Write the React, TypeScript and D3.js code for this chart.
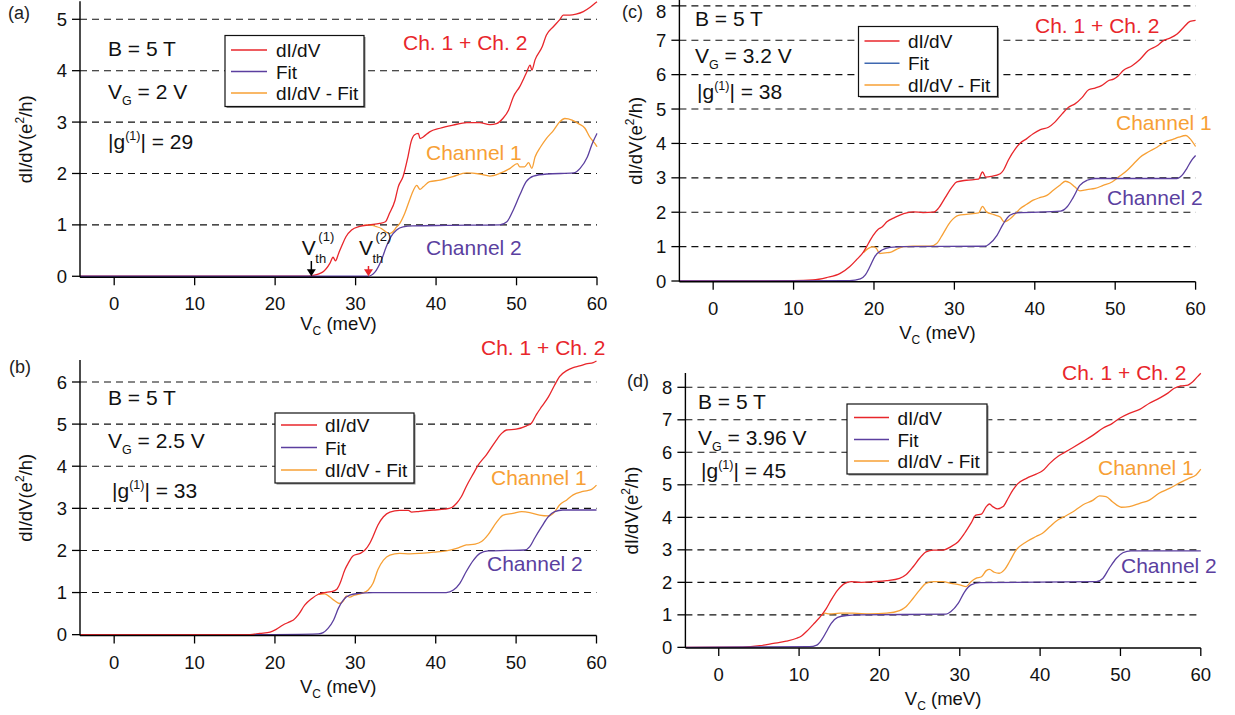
import React from "react";
import * as d3 from "d3";

// ---------------- DATA ----------------
const X_TICKS = [0, 10, 20, 30, 40, 50, 60];
const V_TH_A = [24.5, 31.6];

// Panel (a)  V_G = 2 V
const aDidvX = [-4.25, 24.0, 24.5, 25.9, 26.8, 27.2, 27.5, 27.9, 28.3, 28.8, 29.5, 30.5, 31.7, 33.0, 33.7, 34.2, 34.9, 35.3, 35.9, 36.5, 36.9, 37.3, 37.8, 38.0, 38.4, 39.2, 40.5, 42.1, 43.8, 45.4, 46.7, 47.5, 48.3, 49.0, 49.6, 50.4, 51.2, 51.7, 51.9, 52.3, 53.2, 53.7, 54.6, 55.4, 55.8, 56.6, 57.4, 58.3, 59.1, 59.75, 60];
const aDidvY = [0, 0, 0.01, 0.08, 0.25, 0.37, 0.3, 0.45, 0.6, 0.77, 0.9, 0.97, 1.0, 1.03, 1.06, 1.22, 1.48, 1.74, 1.94, 2.32, 2.62, 2.75, 2.78, 2.68, 2.71, 2.81, 2.88, 2.94, 2.99, 2.99, 2.95, 2.97, 3.07, 3.23, 3.49, 3.69, 3.95, 4.11, 4.01, 4.21, 4.47, 4.69, 4.86, 5.0, 5.08, 5.08, 5.1, 5.15, 5.23, 5.31, 5.34];
const aFitX = [-4.25, 31.5, 32.4, 33.2, 33.8, 34.4, 35.1, 35.9, 37.1, 41.3, 47.9, 48.8, 49.6, 50.4, 51.2, 52.1, 53.8, 57.1, 57.9, 58.8, 59.4, 60];
const aFitY = [0, 0, 0.08, 0.31, 0.57, 0.77, 0.9, 0.96, 0.98, 0.99, 1.0, 1.06, 1.29, 1.58, 1.84, 1.95, 1.99, 2.01, 2.1, 2.32, 2.58, 2.78];
const aDiffX = [31.0, 31.7, 32.5, 33.2, 33.8, 34.2, 34.6, 35.1, 35.5, 36.1, 36.7, 37.2, 37.6, 38.0, 38.4, 39.2, 40.5, 42.1, 43.8, 45.4, 46.7, 47.9, 49.2, 50.1, 50.4, 51.0, 51.5, 51.9, 52.3, 53.0, 53.7, 54.6, 55.4, 56.0, 56.9, 57.7, 58.5, 59.1, 59.75, 60];
const aDiffY = [0.99, 1.0, 0.97, 0.93, 0.86, 0.83, 0.86, 0.96, 1.03, 1.22, 1.48, 1.68, 1.77, 1.69, 1.74, 1.84, 1.87, 1.94, 2.01, 1.99, 1.95, 2.0, 2.1, 2.19, 2.13, 2.13, 2.21, 2.1, 2.32, 2.52, 2.68, 2.84, 3.01, 3.07, 3.04, 2.97, 2.88, 2.71, 2.58, 2.52];

// Panel (b)  V_G = 2.5 V
const bDidvX = [-4.25, 16.9, 18.1, 19.4, 20.2, 21.0, 21.9, 22.3, 22.9, 23.7, 24.6, 25.4, 26.2, 27.0, 27.7, 28.1, 28.7, 29.1, 29.7, 30.6, 31.2, 31.8, 32.2, 32.8, 33.5, 34.3, 35.5, 36.6, 37.0, 38.0, 39.7, 41.1, 42.0, 42.6, 43.2, 43.8, 44.7, 45.3, 46.3, 47.4, 48.2, 48.8, 50.0, 51.3, 51.9, 52.5, 53.2, 54.0, 54.8, 55.4, 56.3, 57.1, 57.9, 58.7, 59.6, 60];
const bDidvY = [0, 0, 0.03, 0.06, 0.13, 0.23, 0.31, 0.35, 0.47, 0.7, 0.86, 0.96, 1.0, 1.02, 1.08, 1.22, 1.54, 1.69, 1.87, 1.93, 2.01, 2.17, 2.33, 2.6, 2.8, 2.91, 2.95, 2.95, 2.91, 2.93, 2.96, 2.98, 3.02, 3.12, 3.28, 3.52, 3.83, 4.03, 4.27, 4.58, 4.78, 4.86, 4.88, 4.96, 5.02, 5.22, 5.42, 5.64, 5.93, 6.13, 6.27, 6.34, 6.38, 6.43, 6.46, 6.5];
const bFitX = [17.5, 25.4, 26.0, 26.6, 27.3, 27.9, 28.5, 29.3, 30.4, 32.2, 41.3, 42.2, 43.0, 43.8, 44.7, 45.5, 46.5, 48.8, 51.1, 51.7, 52.3, 53.2, 54.0, 54.8, 55.8, 60];
const bFitY = [0, 0.02, 0.05, 0.15, 0.35, 0.63, 0.82, 0.94, 0.98, 1.0, 1.0, 1.06, 1.22, 1.5, 1.77, 1.93, 1.99, 2.0, 2.01, 2.09, 2.29, 2.57, 2.8, 2.92, 2.96, 2.96];
const bDiffX = [25.4, 26.2, 26.8, 27.4, 28.0, 28.5, 28.9, 29.3, 29.9, 30.8, 31.6, 32.2, 32.8, 33.5, 34.3, 35.5, 36.8, 38.0, 39.7, 41.3, 42.6, 43.8, 44.9, 45.7, 46.5, 47.6, 48.4, 49.6, 50.7, 51.7, 52.9, 54.0, 54.8, 55.4, 56.3, 57.1, 58.3, 59.4, 60];
const bDiffY = [0.96, 0.97, 0.9, 0.81, 0.74, 0.8, 0.92, 0.89, 0.94, 0.98, 1.06, 1.22, 1.54, 1.77, 1.89, 1.93, 1.92, 1.93, 1.96, 1.99, 2.05, 2.13, 2.15, 2.21, 2.37, 2.68, 2.84, 2.88, 2.92, 2.9, 2.84, 2.82, 2.92, 3.08, 3.2, 3.32, 3.4, 3.45, 3.55];

// Panel (c)  V_G = 3.2 V
const cDidvX = [-4.2, 10.0, 12.4, 14.1, 15.8, 17.0, 17.8, 18.7, 19.3, 19.9, 20.5, 21.0, 21.6, 22.6, 23.7, 24.9, 26.1, 27.4, 28.0, 28.8, 29.7, 30.3, 31.5, 33.0, 33.5, 33.9, 34.6, 35.7, 36.1, 36.7, 37.6, 38.2, 39.0, 39.8, 40.7, 41.7, 42.5, 43.4, 44.2, 45.0, 45.9, 46.7, 47.5, 48.3, 49.2, 49.8, 50.4, 51.0, 52.1, 53.1, 54.1, 55.2, 56.0, 56.8, 57.7, 58.5, 59.3, 60];
const cDidvY = [0, 0.01, 0.03, 0.1, 0.22, 0.42, 0.61, 0.85, 1.09, 1.33, 1.5, 1.57, 1.72, 1.85, 1.96, 2.01, 1.99, 2.0, 2.11, 2.4, 2.73, 2.88, 2.93, 2.96, 3.17, 3.02, 3.04, 3.12, 3.22, 3.51, 3.85, 4.01, 4.14, 4.28, 4.4, 4.47, 4.62, 4.86, 5.05, 5.15, 5.34, 5.56, 5.61, 5.68, 5.83, 5.87, 5.97, 6.12, 6.26, 6.45, 6.7, 6.84, 6.99, 7.06, 7.18, 7.37, 7.55, 7.58];
const cFitX = [-4.2, 17.0, 18.3, 18.9, 19.5, 20.1, 21.0, 22.0, 23.7, 33.8, 34.4, 35.3, 36.1, 36.9, 37.8, 43.2, 44.0, 44.8, 45.6, 46.5, 47.5, 57.7, 58.3, 58.9, 59.5, 60];
const cFitY = [0, 0.01, 0.06, 0.17, 0.42, 0.71, 0.9, 0.98, 1.0, 1.01, 1.09, 1.33, 1.67, 1.91, 1.98, 2.03, 2.15, 2.44, 2.78, 2.93, 2.98, 2.98, 3.07, 3.27, 3.51, 3.65];
const cDiffX = [18.7, 19.3, 19.9, 20.3, 20.7, 21.4, 22.0, 22.8, 23.7, 24.9, 27.0, 27.8, 28.6, 29.5, 30.5, 31.5, 33.0, 33.5, 34.0, 34.9, 35.7, 36.2, 36.7, 37.6, 38.2, 39.0, 39.8, 40.7, 41.5, 42.3, 43.2, 43.8, 44.4, 45.0, 45.6, 46.5, 47.5, 48.5, 49.6, 50.4, 51.5, 52.3, 53.1, 54.1, 55.2, 56.2, 57.1, 57.9, 58.8, 59.3, 60];
const cDiffY = [0.83, 0.95, 1.0, 0.95, 0.8, 0.82, 0.83, 0.92, 1.0, 1.01, 1.01, 1.09, 1.38, 1.72, 1.91, 1.94, 1.98, 2.17, 2.01, 1.93, 1.86, 1.72, 1.77, 1.96, 2.11, 2.23, 2.35, 2.43, 2.49, 2.64, 2.8, 2.9, 2.85, 2.73, 2.62, 2.66, 2.69, 2.78, 2.88, 3.02, 3.22, 3.41, 3.6, 3.75, 3.89, 4.04, 4.11, 4.18, 4.23, 4.14, 3.91];

// Panel (d)  V_G = 3.96 V
const dDidvX = [-4.15, 3.0, 5.1, 6.8, 8.4, 9.7, 10.3, 11.1, 11.9, 12.8, 13.4, 14.0, 14.8, 15.7, 16.5, 17.5, 19.2, 20.9, 22.5, 23.3, 24.2, 25.0, 25.8, 26.7, 27.9, 28.9, 29.8, 30.6, 31.4, 32.0, 32.7, 33.3, 33.7, 34.1, 34.7, 35.4, 36.0, 36.6, 37.2, 38.3, 39.5, 40.3, 41.2, 42.2, 43.0, 44.1, 45.3, 46.6, 47.8, 49.0, 49.9, 51.1, 52.4, 53.6, 54.8, 55.9, 56.7, 57.5, 58.4, 59.0, 59.6, 60];
const dDidvY = [0, 0.01, 0.05, 0.12, 0.19, 0.28, 0.35, 0.53, 0.74, 0.99, 1.2, 1.46, 1.76, 1.97, 2.02, 2.0, 2.02, 2.05, 2.12, 2.23, 2.48, 2.74, 2.94, 2.99, 2.99, 3.1, 3.25, 3.51, 3.82, 4.07, 4.1, 4.33, 4.41, 4.33, 4.26, 4.33, 4.58, 4.84, 5.03, 5.2, 5.33, 5.43, 5.66, 5.87, 5.99, 6.15, 6.33, 6.53, 6.74, 6.89, 7.05, 7.2, 7.32, 7.51, 7.66, 7.82, 7.97, 8.04, 8.07, 8.17, 8.33, 8.43];
const dFitX = [-4.15, 11.3, 12.2, 12.8, 13.4, 14.0, 14.8, 15.9, 17.5, 28.3, 28.9, 29.8, 30.6, 31.4, 32.5, 47.0, 47.8, 48.6, 49.5, 50.3, 51.3, 60];
const dFitY = [0, 0.02, 0.07, 0.23, 0.48, 0.74, 0.92, 0.98, 1.0, 1.02, 1.1, 1.35, 1.71, 1.92, 1.99, 2.02, 2.12, 2.43, 2.74, 2.91, 2.97, 2.97];
const dDiffX = [12.8, 13.2, 13.8, 15.1, 16.7, 18.8, 20.9, 22.5, 23.3, 24.2, 25.0, 25.8, 26.7, 27.9, 28.9, 30.0, 30.8, 31.4, 32.0, 32.7, 33.3, 33.7, 34.3, 34.9, 35.6, 36.2, 37.0, 38.3, 39.5, 40.3, 41.2, 42.2, 43.0, 44.1, 45.3, 46.6, 47.4, 48.2, 49.0, 50.1, 51.1, 52.4, 53.6, 54.8, 56.1, 57.3, 58.5, 59.4, 60];
const dDiffY = [0.99, 1.05, 1.03, 1.05, 1.05, 1.03, 1.05, 1.13, 1.25, 1.51, 1.76, 1.97, 2.02, 2.02, 1.97, 1.92, 1.87, 2.02, 2.12, 2.17, 2.36, 2.4, 2.31, 2.28, 2.4, 2.64, 2.99, 3.25, 3.41, 3.51, 3.71, 3.92, 4.02, 4.17, 4.38, 4.53, 4.66, 4.64, 4.48, 4.31, 4.33, 4.43, 4.53, 4.74, 4.89, 5.05, 5.2, 5.3, 5.48];

const PANEL_LABELS = ["(a)", "(b)", "(c)", "(d)"];
const VG_VALUES = ["2 V", "2.5 V", "3.2 V", "3.96 V"];
const G_VALUES = ["29", "33", "38", "45"];
const LEGEND_LABELS = ["dI/dV", "Fit", "dI/dV - Fit"];

// ---------------- STYLE / LAYOUT ----------------
const RED = "#e8262b";
const ORANGE = "#f7a035";
const PURPLE = "#5b3f9f";
const BLUE = "#3f68b0";
const FONT = "'Liberation Sans', Arial, Helvetica, sans-serif";

type Cfg = {
  left: number; right: number; xMin: number;
  bottom: number; top: number; yMin: number; yMax: number;
  labelX: number; labelY: number;
  annX: number; gX: number; bY: number; vgY: number; gY: number;
  leg: { x: number; y: number; w: number; h: number; rows: number[]; lx1: number; lx2: number; tx: number };
  fitLegendColor: string;
  sum: [number, number]; ch1: [number, number]; ch2: [number, number];
  yTitleX: number; xTitleDy: number;
  didv: [number[], number[]]; fit: [number[], number[]]; diff: [number[], number[]];
};

const CFGS: Cfg[] = [
  {
    left: 80, right: 597, xMin: -4.25, bottom: 277.3, top: 1.3, yMin: -0.02, yMax: 5.35,
    labelX: 8, labelY: 19, annX: 108, gX: 108, bY: 56, vgY: 99, gY: 149,
    leg: { x: 225, y: 35.5, w: 139, h: 71, rows: [50, 71.5, 93], lx1: 231, lx2: 267, tx: 276 },
    fitLegendColor: PURPLE, sum: [403, 50], ch1: [426, 160], ch2: [426, 255],
    yTitleX: 32, xTitleDy: 53,
    didv: [aDidvX, aDidvY], fit: [aFitX, aFitY], diff: [aDiffX, aDiffY],
  },
  {
    left: 80, right: 596.5, xMin: -4.25, bottom: 635.5, top: 360.1, yMin: -0.02, yMax: 6.52,
    labelX: 9, labelY: 373, annX: 108, gX: 112, bY: 405, vgY: 448, gY: 498,
    leg: { x: 275, y: 413, w: 139, h: 70, rows: [425, 447.5, 470], lx1: 281, lx2: 317, tx: 325 },
    fitLegendColor: PURPLE, sum: [481, 355], ch1: [491, 485], ch2: [487, 571],
    yTitleX: 32, xTitleDy: 57,
    didv: [bDidvX, bDidvY], fit: [bFitX, bFitY], diff: [bDiffX, bDiffY],
  },
  {
    left: 679.4, right: 1195.6, xMin: -4.2, bottom: 281.7, top: 0, yMin: -0.02, yMax: 8.17,
    labelX: 622, labelY: 17.5, annX: 695, gX: 697, bY: 26, vgY: 63, gY: 99,
    leg: { x: 858.5, y: 26.5, w: 139, h: 70, rows: [41, 63.3, 85], lx1: 864.5, lx2: 899.5, tx: 908 },
    fitLegendColor: BLUE, sum: [1035, 33], ch1: [1116, 130], ch2: [1107, 205],
    yTitleX: 642, xTitleDy: 57,
    didv: [cDidvX, cDidvY], fit: [cFitX, cFitY], diff: [cDiffX, cDiffY],
  },
  {
    left: 685.4, right: 1200.8, xMin: -4.15, bottom: 648, top: 373, yMin: -0.02, yMax: 8.44,
    labelX: 627, labelY: 387, annX: 698, gX: 701, bY: 409, vgY: 445, gY: 478,
    leg: { x: 847, y: 404, w: 140, h: 70, rows: [417.5, 439.5, 461], lx1: 854, lx2: 889, tx: 897.5 },
    fitLegendColor: PURPLE, sum: [1062, 380], ch1: [1098, 475], ch2: [1121, 573],
    yTitleX: 638, xTitleDy: 57,
    didv: [dDidvX, dDidvY], fit: [dFitX, dFitY], diff: [dDiffX, dDiffY],
  },
];

function Panel({ cfg, idx }: { cfg: Cfg; idx: number }) {
  const xs = d3.scaleLinear().domain([cfg.xMin, 60]).range([cfg.left, cfg.right]);
  const ys = d3.scaleLinear().domain([cfg.yMin, cfg.yMax]).range([cfg.bottom, cfg.top]);
  const path = (s: [number[], number[]]) =>
    d3.line<number>().x((_, i) => xs(s[0][i])).y((d) => ys(d)).curve(d3.curveMonotoneX)(s[1]) || "";
  const yTicks = d3.range(0, Math.floor(cfg.yMax) + 1);
  const gridVals = yTicks.filter((v) => v > 0);
  const xAxisY = cfg.bottom;
  const midX = (cfg.left + cfg.right) / 2;
  const midY = (cfg.bottom + cfg.top) / 2;
  const lc = [RED, cfg.fitLegendColor, ORANGE];

  return (
    <g fontFamily={FONT}>
      {/* grid */}
      {gridVals.map((v) => (
        <line key={"g" + v} x1={cfg.left} x2={xs(60)} y1={ys(v)} y2={ys(v)}
          stroke="#111" strokeWidth={1.1} strokeDasharray="7,5" />
      ))}
      {/* curves */}
      <path d={path(cfg.diff)} fill="none" stroke={ORANGE} strokeWidth={1.3} />
      <path d={path(cfg.didv)} fill="none" stroke={RED} strokeWidth={1.3} />
      <path d={path(cfg.fit)} fill="none" stroke={PURPLE} strokeWidth={1.3} />
      {/* axes */}
      <line x1={cfg.left} x2={cfg.left} y1={xAxisY} y2={cfg.top} stroke="#000" strokeWidth={1.4} />
      <line x1={cfg.left} x2={xs(60)} y1={xAxisY} y2={xAxisY} stroke="#000" strokeWidth={1.4} />
      {yTicks.map((v) => (
        <g key={"yt" + v}>
          <line x1={cfg.left - 8} x2={cfg.left} y1={ys(v)} y2={ys(v)} stroke="#000" strokeWidth={1.3} />
          <text x={cfg.left - 13} y={Math.max(ys(v) + 6.6, 17.5)} textAnchor="end" fontSize={18.5} fill="#111">{v}</text>
        </g>
      ))}
      {X_TICKS.map((t) => (
        <g key={"xt" + t}>
          <line x1={xs(t)} x2={xs(t)} y1={xAxisY} y2={xAxisY + 8} stroke="#000" strokeWidth={1.3} />
          <text x={xs(t)} y={xAxisY + 33} textAnchor="middle" fontSize={18.5} fill="#111">{t}</text>
        </g>
      ))}
      {/* axis titles */}
      <text x={midX} y={xAxisY + cfg.xTitleDy} textAnchor="middle" fontSize={18.5} fill="#111">
        <tspan>V</tspan>
        <tspan fontSize={12} dy={5}>C</tspan>
        <tspan dy={-5}> (meV)</tspan>
      </text>
      <text transform={`translate(${cfg.yTitleX},${midY}) rotate(-90)`} textAnchor="middle" fontSize={18.5} fill="#111">
        <tspan>dI/dV(e</tspan>
        <tspan fontSize={12} dy={-8}>2</tspan>
        <tspan dy={8}>/h)</tspan>
      </text>
      {/* panel label */}
      <text x={cfg.labelX} y={cfg.labelY} fontSize={18} fill="#222">{PANEL_LABELS[idx]}</text>
      {/* annotations */}
      <text x={cfg.annX} y={cfg.bY} fontSize={21} fill="#111">B = 5 T</text>
      <text x={cfg.annX} y={cfg.vgY} fontSize={21} fill="#111">
        <tspan>V</tspan>
        <tspan fontSize={12.5} dy={6}>G</tspan>
        <tspan dy={-6}>{" = " + VG_VALUES[idx]}</tspan>
      </text>
      <text x={cfg.gX} y={cfg.gY} fontSize={21} fill="#111">
        <tspan>|g</tspan>
        <tspan fontSize={12.5} dy={-9}>(1)</tspan>
        <tspan dy={9}>{"| = " + G_VALUES[idx]}</tspan>
      </text>
      <text x={cfg.sum[0]} y={cfg.sum[1]} fontSize={21} fill={RED}>Ch. 1 + Ch. 2</text>
      <text x={cfg.ch1[0]} y={cfg.ch1[1]} fontSize={21} fill={ORANGE}>Channel 1</text>
      <text x={cfg.ch2[0]} y={cfg.ch2[1]} fontSize={21} fill={PURPLE}>Channel 2</text>
      {/* legend */}
      <rect x={cfg.leg.x + 1.5} y={cfg.leg.y + 1.5} width={cfg.leg.w} height={cfg.leg.h} fill="#888" />
      <rect x={cfg.leg.x} y={cfg.leg.y} width={cfg.leg.w} height={cfg.leg.h} fill="#fff" stroke="#111" strokeWidth={1.2} />
      {LEGEND_LABELS.map((lab, i) => (
        <g key={"lg" + i}>
          <line x1={cfg.leg.lx1} x2={cfg.leg.lx2} y1={cfg.leg.rows[i]} y2={cfg.leg.rows[i]} stroke={lc[i]} strokeWidth={1.4} />
          <text x={cfg.leg.tx} y={cfg.leg.rows[i] + 7} fontSize={19} fill="#111">{lab}</text>
        </g>
      ))}
      {/* threshold markers (panel a) */}
      {idx === 0 &&
        V_TH_A.map((v, i) => {
          const x = xs(v);
          const col = i === 0 ? "#000" : RED;
          const top = i === 0 ? 261 : 266;
          return (
            <g key={"vth" + i}>
              <line x1={x} x2={x} y1={top} y2={xAxisY - 7} stroke={col} strokeWidth={1.5} />
              <path d={`M${x - 4.5},${xAxisY - 8} L${x + 4.5},${xAxisY - 8} L${x},${xAxisY - 1} Z`} fill={col} />
              <text x={x - 9.5} y={255} fontSize={21} fill="#111">V</text>
              <text x={x + 4} y={262.5} fontSize={13} fill="#111">th</text>
              <text x={x + 7} y={241} fontSize={13} fill="#111">{`(${i + 1})`}</text>
            </g>
          );
        })}
    </g>
  );
}

export default function App() {
  return (
    <div style={{ position: "absolute", left: 0, top: 0 }}>
      <svg width={1235} height={715} viewBox="0 0 1235 715" style={{ display: "block", background: "#fff" }}>
        {CFGS.map((cfg, i) => (
          <Panel key={i} cfg={cfg} idx={i} />
        ))}
      </svg>
    </div>
  );
}
